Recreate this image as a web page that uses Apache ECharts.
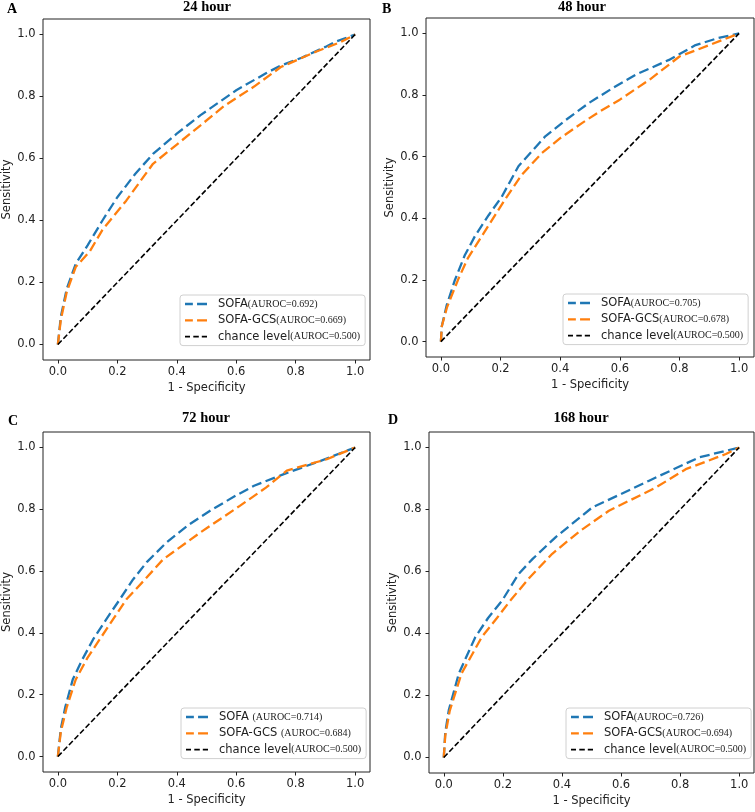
<!DOCTYPE html>
<html>
<head>
<meta charset="utf-8">
<script src="https://cdn.jsdelivr.net/npm/echarts@6/dist/echarts.min.js"></script>
<style>
  html, body { margin: 0; padding: 0; background: #fff; }
  #chart { width: 755px; height: 812px; }
</style>
</head>
<body>
<div id="chart"></div>
<script>
// ---- data ----
const panelTitles = ['24 hour', '48 hour', '72 hour', '168 hour'];
const panelLetters = ['A', 'B', 'C', 'D'];
const sofaAuroc = ['0.692', '0.705', '0.714', '0.726'];
const gcsAuroc = ['0.669', '0.678', '0.684', '0.694'];
const chanceAuroc = '0.500';
const axisTicks = [0, 0.2, 0.4, 0.6, 0.8, 1.0];

// ROC points [1 - specificity, sensitivity]
const sofa24 = [[0,0],[0.01,0.09],[0.03,0.18],[0.06,0.26],[0.1,0.32],[0.15,0.40],[0.2,0.475],[0.26,0.55],[0.32,0.615],[0.4,0.68],[0.48,0.74],[0.6,0.82],[0.7,0.875],[0.75,0.90],[0.82,0.925],[0.9,0.96],[0.93,0.975],[1,1]];
const gcs24 = [[0,0],[0.01,0.08],[0.03,0.17],[0.06,0.25],[0.107,0.30],[0.15,0.37],[0.23,0.464],[0.32,0.583],[0.4,0.645],[0.48,0.707],[0.56,0.77],[0.66,0.832],[0.75,0.895],[0.87,0.945],[0.95,0.975],[1,1]];

const sofa48 = [[0,0],[0.003,0.05],[0.02,0.12],[0.047,0.20],[0.08,0.28],[0.114,0.342],[0.16,0.41],[0.204,0.47],[0.26,0.569],[0.35,0.666],[0.42,0.72],[0.496,0.774],[0.58,0.825],[0.653,0.866],[0.765,0.914],[0.854,0.962],[0.93,0.985],[1,1]];
const gcs48 = [[0,0],[0.003,0.05],[0.02,0.11],[0.058,0.202],[0.09,0.27],[0.137,0.342],[0.215,0.461],[0.27,0.54],[0.339,0.612],[0.40,0.66],[0.473,0.709],[0.53,0.745],[0.6,0.785],[0.7,0.85],[0.8,0.925],[0.9,0.962],[1,1]];

const sofa72 = [[0,0],[0.01,0.09],[0.025,0.16],[0.05,0.249],[0.08,0.31],[0.118,0.378],[0.16,0.44],[0.208,0.508],[0.253,0.573],[0.30,0.63],[0.365,0.692],[0.44,0.75],[0.52,0.80],[0.6,0.845],[0.66,0.876],[0.758,0.913],[0.882,0.956],[1,1]];
const gcs72 = [[0,0],[0.01,0.08],[0.03,0.16],[0.06,0.249],[0.10,0.32],[0.14,0.378],[0.19,0.45],[0.23,0.508],[0.29,0.57],[0.354,0.638],[0.478,0.724],[0.612,0.811],[0.70,0.87],[0.77,0.925],[0.905,0.962],[1,1]];

const sofa168 = [[0,0],[0.005,0.08],[0.017,0.153],[0.051,0.271],[0.107,0.389],[0.15,0.45],[0.198,0.507],[0.254,0.593],[0.30,0.64],[0.379,0.711],[0.503,0.807],[0.6,0.85],[0.695,0.893],[0.864,0.968],[1,1]];
const gcs168 = [[0,0],[0.005,0.07],[0.02,0.15],[0.06,0.271],[0.129,0.389],[0.18,0.45],[0.226,0.507],[0.29,0.58],[0.367,0.657],[0.46,0.73],[0.559,0.796],[0.718,0.871],[0.819,0.93],[0.955,0.979],[1,1]];

const chanceLine = [[0,0],[1,1]];

const sofaSeriesData = [sofa24, sofa48, sofa72, sofa168];
const gcsSeriesData = [gcs24, gcs48, gcs72, gcs168];

// ---- layout ----
const grids = [
  { left: 43, top: 19, width: 327, height: 341 },
  { left: 426, top: 18, width: 328, height: 339 },
  { left: 43, top: 432, width: 327, height: 340 },
  { left: 429, top: 432, width: 325, height: 341 }
];
const titlePos = [
  { x: 207, y: 0 }, { x: 582, y: 0 }, { x: 206, y: 411 }, { x: 581, y: 411 }
];
const letterPos = [
  { x: 7, y: 2 }, { x: 382, y: 2 }, { x: 8, y: 414 }, { x: 388, y: 413 }
];
const legendPos = [
  { x: 180, y: 295 }, { x: 563, y: 294 }, { x: 181, y: 708 }, { x: 566, y: 708 }
];

const TXT = '#222';
const SANS = '"DejaVu Sans", sans-serif';
const SERIF = '"Liberation Serif", "Times New Roman", serif';
const ICON_COLOR = 'path://M0,0h7.5v2.2h-7.5z M11.5,0h9.5v2.2h-9.5z';
const ICON_BLACK = 'path://M0,0h5v1.6h-5z M8.3,0h5.5v1.6h-5.5z M16.8,0h5.2v1.6h-5.2z';

const titles = [];
const xAxes = [];
const yAxes = [];
const series = [];
const legends = [];

for (let i = 0; i < 4; i++) {
  titles.push({
    text: panelTitles[i], left: titlePos[i].x, top: titlePos[i].y, textAlign: 'center', padding: 0,
    textStyle: { fontFamily: SERIF, fontWeight: 'bold', fontSize: 14.5, color: '#000' }
  });
  titles.push({
    text: panelLetters[i], left: letterPos[i].x, top: letterPos[i].y, padding: 0,
    textStyle: { fontFamily: SERIF, fontWeight: 'bold', fontSize: 14, color: '#000' }
  });

  const common = {
    type: 'value', gridIndex: i, min: -0.05, max: 1.05,
    axisLine: { show: false, onZero: false },
    splitLine: { show: false },
    axisTick: { show: true, inside: false, length: 3.5, customValues: axisTicks, lineStyle: { color: TXT, width: 1 } },
    nameTextStyle: { fontFamily: SANS, fontSize: 11.5, color: TXT }
  };
  xAxes.push(Object.assign({}, common, {
    position: 'bottom',
    name: '1 - Specificity', nameLocation: 'middle', nameGap: 22,
    axisLabel: { customValues: axisTicks, margin: 6, fontFamily: SANS, fontSize: 11.5, color: TXT, formatter: v => v.toFixed(1) }
  }));
  yAxes.push(Object.assign({}, common, {
    position: 'left',
    name: 'Sensitivity', nameLocation: 'middle', nameGap: 29, nameRotate: 90,
    axisLabel: { customValues: axisTicks, margin: 7.5, fontFamily: SANS, fontSize: 11.5, color: TXT, formatter: v => v.toFixed(1) }
  }));

  const sofaName = 'SOFA' + (i === 2 ? ' ' : '') + '(AUROC=' + sofaAuroc[i] + ')';
  const gcsName = 'SOFA-GCS' + (i === 2 ? ' ' : '') + '(AUROC=' + gcsAuroc[i] + ')';
  const chanceName = 'chance level(AUROC=' + chanceAuroc + ')';

  series.push({
    type: 'line', name: sofaName, xAxisIndex: i, yAxisIndex: i, data: sofaSeriesData[i],
    symbol: 'none', silent: true, animation: false,
    lineStyle: { color: '#1f77b4', width: 2.3, type: [10, 4.5] }, itemStyle: { color: '#1f77b4' }
  });
  series.push({
    type: 'line', name: gcsName, xAxisIndex: i, yAxisIndex: i, data: gcsSeriesData[i],
    symbol: 'none', silent: true, animation: false,
    lineStyle: { color: '#ff7f0e', width: 2.3, type: [10, 4.5] }, itemStyle: { color: '#ff7f0e' }
  });
  series.push({
    type: 'line', name: chanceName, xAxisIndex: i, yAxisIndex: i, data: chanceLine,
    symbol: 'none', silent: true, animation: false,
    lineStyle: { color: '#000', width: 1.6, type: [5.5, 2.5] }, itemStyle: { color: '#000' }
  });

  legends.push({
    data: [
      { name: sofaName, icon: ICON_COLOR, itemStyle: { color: '#1f77b4', borderWidth: 0 } },
      { name: gcsName, icon: ICON_COLOR, itemStyle: { color: '#ff7f0e', borderWidth: 0 } },
      { name: chanceName, icon: ICON_BLACK, itemStyle: { color: '#000', borderWidth: 0 } }
    ],
    orient: 'vertical', left: legendPos[i].x, top: legendPos[i].y,
    padding: [3, 5, 3, 5], itemGap: 4.3, itemWidth: 22, itemHeight: 14,
    symbolKeepAspect: true,
    backgroundColor: 'rgba(255,255,255,0.85)', borderColor: '#d0d0d0', borderWidth: 1, borderRadius: 3,
    selectedMode: false,
    formatter: function (name) {
      const k = name.indexOf('(');
      return '{a|' + name.slice(0, k) + '}{b|' + name.slice(k) + '}';
    },
    textStyle: {
      rich: {
        a: { fontFamily: SANS, fontSize: 11.5, color: TXT, padding: [0, 0, 0, 6], lineHeight: 14 },
        b: { fontFamily: SERIF, fontSize: 10, color: TXT, lineHeight: 14 }
      }
    }
  });
}

const chart = echarts.init(document.getElementById('chart'), null, { renderer: 'canvas' });
chart.setOption({
  backgroundColor: '#fff',
  animation: false,
  title: titles,
  legend: legends,
  grid: grids.map(g => Object.assign({ show: true, borderColor: '#222', borderWidth: 1, backgroundColor: 'transparent', containLabel: false }, g)),
  xAxis: xAxes,
  yAxis: yAxes,
  series: series
});
</script>
</body>
</html>
